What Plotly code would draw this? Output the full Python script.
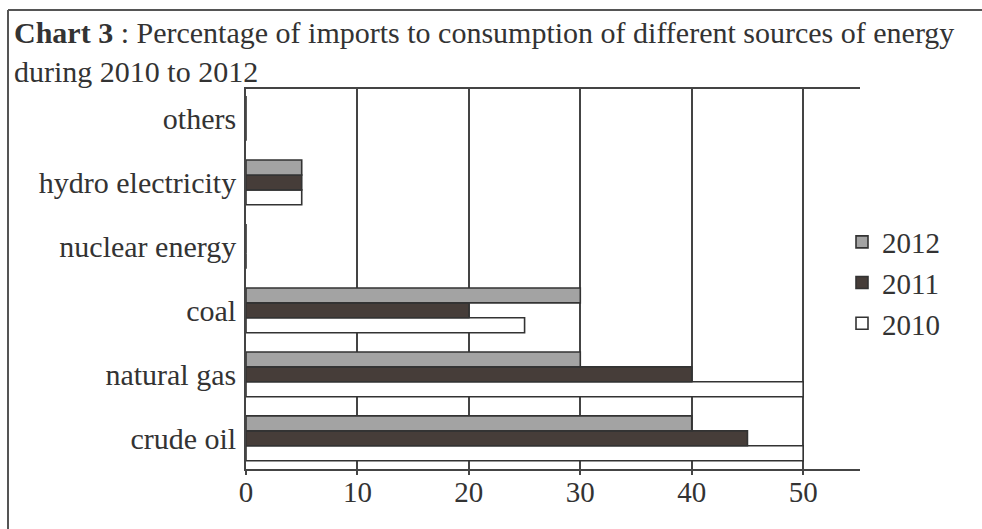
import plotly.graph_objects as go

categories = ["crude oil", "natural gas", "coal", "nuclear energy", "hydro electricity", "others"]
years = ["2010", "2011", "2012"]
values_2010 = [50, 50, 25, 0, 5, 0]
values_2011 = [45, 40, 20, 0, 5, 0]
values_2012 = [40, 30, 30, 0, 5, 0]
x_ticks = [0, 10, 20, 30, 40, 50]

series = {"2010": values_2010, "2011": values_2011, "2012": values_2012}
colors = {"2010": "#ffffff", "2011": "#463d39", "2012": "#a3a3a3"}
ranks = {"2012": 1, "2011": 2, "2010": 3}

W, H = 982, 529
L, R, T, B = 246, 122, 89, 60
pw, ph = W - L - R, H - T - B

def px_x(p):
    return (p - L) / pw

def px_y(p):
    return (H - B - p) / ph

fig = go.Figure()
for y in years:
    vals = series[y]
    fig.add_trace(go.Bar(
        y=categories, x=vals, name=y, orientation="h",
        marker=dict(color=colors[y], line=dict(color="#333333", width=1.6)),
        legendgroup=y, legendrank=ranks[y],
    ))

font_family = "Liberation Serif, Times New Roman, serif"
fig.update_layout(
    width=W, height=H,
    margin=dict(l=L, r=R, t=T, b=B),
    paper_bgcolor="white", plot_bgcolor="white",
    barmode="group", bargap=0.3, bargroupgap=0,
    font=dict(family=font_family, size=30, color="#333333"),
    title=dict(
        text="<b>Chart 3</b> : Percentage of imports to consumption of different sources of energy<br>during 2010 to 2012",
        x=14 / W, xanchor="left", xref="container",
        y=1 - 43 / H, yanchor="top", yref="container",
        font=dict(family=font_family, size=30, color="#333333"),
    ),
    showlegend=True,
    legend=dict(
        x=px_x(842), xanchor="left", y=px_y(283), yanchor="middle",
        traceorder="grouped", tracegroupgap=0,
        font=dict(family=font_family, size=29, color="#333333"),
        bgcolor="rgba(0,0,0,0)", itemwidth=30,
    ),
    xaxis=dict(
        range=[0, 55.1], tickvals=x_ticks, ticktext=[str(t) for t in x_ticks],
        showgrid=True, gridcolor="#444444", gridwidth=1.6,
        showline=True, linecolor="#444444", linewidth=1.6, mirror=True,
        ticks="outside", ticklen=4, tickcolor="#444444", tickwidth=1.6,
        ticklabelstandoff=-8, tickfont=dict(size=29),
        zeroline=False, fixedrange=True,
    ),
    yaxis=dict(
        categoryorder="array", categoryarray=categories,
        range=[-0.48, 5.46],
        showgrid=False, showline=True, linecolor="#444444", linewidth=1.6,
        ticks="", ticklabelstandoff=2, zeroline=False, fixedrange=True,
    ),
    shapes=[
        dict(type="line", xref="paper", yref="paper",
             x0=px_x(8), x1=px_x(982), y0=px_y(10), y1=px_y(10),
             line=dict(color="#555555", width=2)),
        dict(type="line", xref="paper", yref="paper",
             x0=px_x(8), x1=px_x(8), y0=px_y(10), y1=px_y(529),
             line=dict(color="#555555", width=2)),
    ],
)

fig.write_html("out.html", config={"displayModeBar": False},
               post_script="document.body.style.margin='0';")
